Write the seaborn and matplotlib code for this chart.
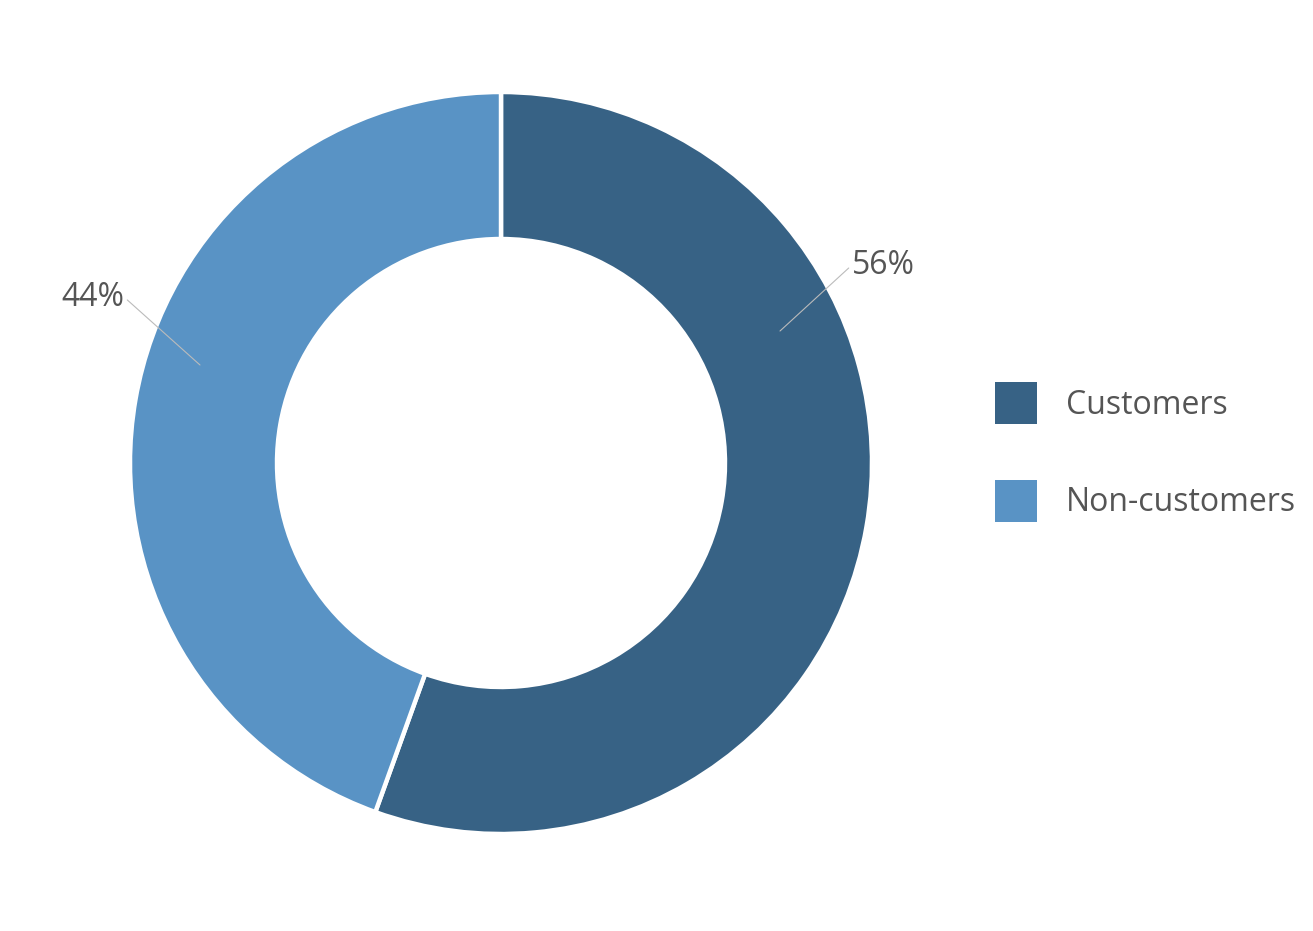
import matplotlib.pyplot as plt
import seaborn as sns
from matplotlib.patches import Patch

categories = ['Customers', 'Non-customers']
shares = [55.5, 44.5]
pct_labels = ['56%', '44%']
colors = ['#376285', '#5993c5']

sns.set_theme(style='white')
plt.rcParams['font.family'] = ['Open Sans', 'DejaVu Sans']

W, H = 1313, 931
fig = plt.figure(figsize=(W / 100, H / 100), dpi=100)
ax = fig.add_axes([0, 0, 1, 1])

cx, cy = 501, H - 463
wedges, _ = ax.pie(shares, colors=colors, startangle=90, counterclock=False,
                   center=(cx, cy), radius=371, frame=True,
                   wedgeprops=dict(width=147, edgecolor='white', linewidth=3.2))
ax.set_xlim(0, W)
ax.set_ylim(0, H)
ax.set_aspect('equal')
ax.axis('off')

# leader lines + percentage labels
ax.annotate(pct_labels[0], xy=(780, H - 331), xytext=(852, H - 265),
            ha='left', va='center', fontsize=23, color='#555555',
            arrowprops=dict(arrowstyle='-', color='#bbbbbb', lw=0.8,
                            shrinkA=0, shrinkB=0, relpos=(0, 0.5)))
ax.annotate(pct_labels[1], xy=(200, H - 365), xytext=(124, H - 297),
            ha='right', va='center', fontsize=23, color='#555555',
            arrowprops=dict(arrowstyle='-', color='#bbbbbb', lw=0.8,
                            shrinkA=0, shrinkB=0, relpos=(1, 0.5)))

handles = [Patch(facecolor=c, edgecolor='none') for c in colors]
leg = ax.legend(handles, categories, loc='center left',
                bbox_to_anchor=(995 / W, 1 - 452 / H), frameon=False,
                fontsize=23, handlelength=1.32, handleheight=1.65,
                handletextpad=0.9, labelspacing=1.74, borderpad=0,
                borderaxespad=0)
for t in leg.get_texts():
    t.set_color('#555555')

fig.savefig('out.png', dpi=100, facecolor='white')
